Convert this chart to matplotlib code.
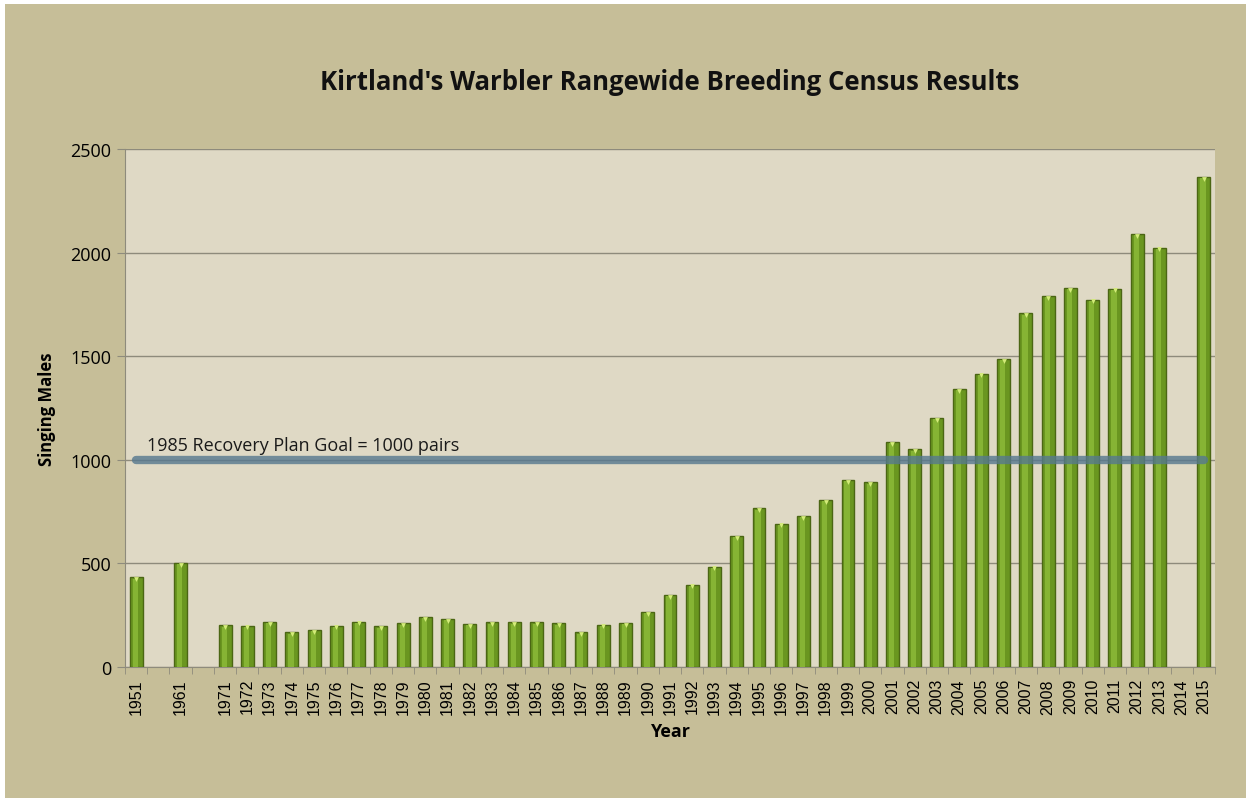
import numpy as np
from matplotlib import pyplot as plt
from matplotlib.patches import Rectangle

years = ['1951', '', '1961', '', '1971', '1972', '1973', '1974', '1975', '1976',
         '1977', '1978', '1979', '1980', '1981', '1982', '1983', '1984', '1985',
         '1986', '1987', '1988', '1989', '1990', '1991', '1992', '1993', '1994',
         '1995', '1996', '1997', '1998', '1999', '2000', '2001', '2002', '2003',
         '2004', '2005', '2006', '2007', '2008', '2009', '2010', '2011', '2012',
         '2013', '2014', '2015']
males = [432, np.nan, 502, np.nan, 201, 200, 216, 167, 179, 200,
         218, 196, 210, 242, 232, 207, 215, 215, 215,
         210, 167, 205, 212, 265, 347, 398, 485, 633,
         765, 692, 729, 805, 903, 891, 1085, 1050, 1202,
         1341, 1415, 1486, 1707, 1791, 1828, 1773, 1826, 2090,
         2023, np.nan, 2365]
goal = 1000
goal_label = '1985 Recovery Plan Goal = 1000 pairs'

bg = '#C6BE98'
plot_bg = '#DFD9C5'

fig = plt.figure(figsize=(12.51, 8.04), dpi=100, facecolor='white')
fig.patches.append(Rectangle((5 / 1251, 5 / 804), 1 - 10 / 1251, 1 - 10 / 804,
                             transform=fig.transFigure, facecolor=bg,
                             edgecolor='none', zorder=-10))
ax = fig.add_axes([125 / 1251, 1 - 668 / 804, 1090 / 1251, 518 / 804])
ax.set_facecolor(plot_bg)

x = np.arange(len(years))
vals = np.array(males, dtype=float)
ok = ~np.isnan(vals)

# bars: dark body, lighter centre stripe, light tip
ax.bar(x[ok], vals[ok], width=0.58, color='#6A9620', edgecolor='#4B6614',
       linewidth=1, zorder=3)
ax.bar(x[ok] - 0.04, vals[ok] - 6, width=0.24, color='#86B434', linewidth=0,
       zorder=3.5)
ax.scatter(x[ok], vals[ok] - 8, marker='v', s=12, color='#D4EC7A',
           linewidths=0, zorder=4)

ax.plot([x[0], x[-1]], [goal, goal], color='#56788F', linewidth=6,
        alpha=0.8, solid_capstyle='round', zorder=5)
ax.text(x[0] + 0.5, goal + 28, goal_label, fontsize=13, family='Open Sans',
        color='#1a1a1a', va='bottom', ha='left', zorder=6)

ax.set_xlim(-0.5, len(years) - 0.5)
ax.set_ylim(0, 2500)
ax.set_yticks(range(0, 2501, 500))
ax.yaxis.grid(True, color='#8E8B7C', linewidth=1)
ax.set_axisbelow(True)

ax.set_xticks(x, labels=years, rotation=90, fontsize=11.5,
              family='Liberation Sans')
ax.set_xticks(np.arange(len(years) + 1) - 0.5, minor=True)
ax.tick_params(axis='x', which='major', length=0, pad=8)
ax.tick_params(axis='x', which='minor', length=5, color='#8E8B7C')
ax.tick_params(axis='y', length=6, color='#8E8B7C', labelsize=13, pad=4)
for lab in ax.get_yticklabels():
    lab.set_family('Open Sans')

for s in ['top', 'right']:
    ax.spines[s].set_visible(False)
ax.spines['left'].set_color('#8E8B7C')
ax.spines['bottom'].set_color('#8E8B7C')

ax.set_xlabel('Year', fontsize=13, fontweight='bold', family='Open Sans',
              labelpad=6)
ax.set_ylabel('Singing Males', fontsize=12, fontweight='bold',
              family='Open Sans', labelpad=10)
fig.text(670 / 1251, 1 - 82 / 804,
         "Kirtland's Warbler Rangewide Breeding Census Results",
         fontsize=18.5, fontweight='bold', family='Open Sans', ha='center',
         va='center', color='#111111')

fig.savefig('out.png', dpi=100, facecolor=fig.get_facecolor())
